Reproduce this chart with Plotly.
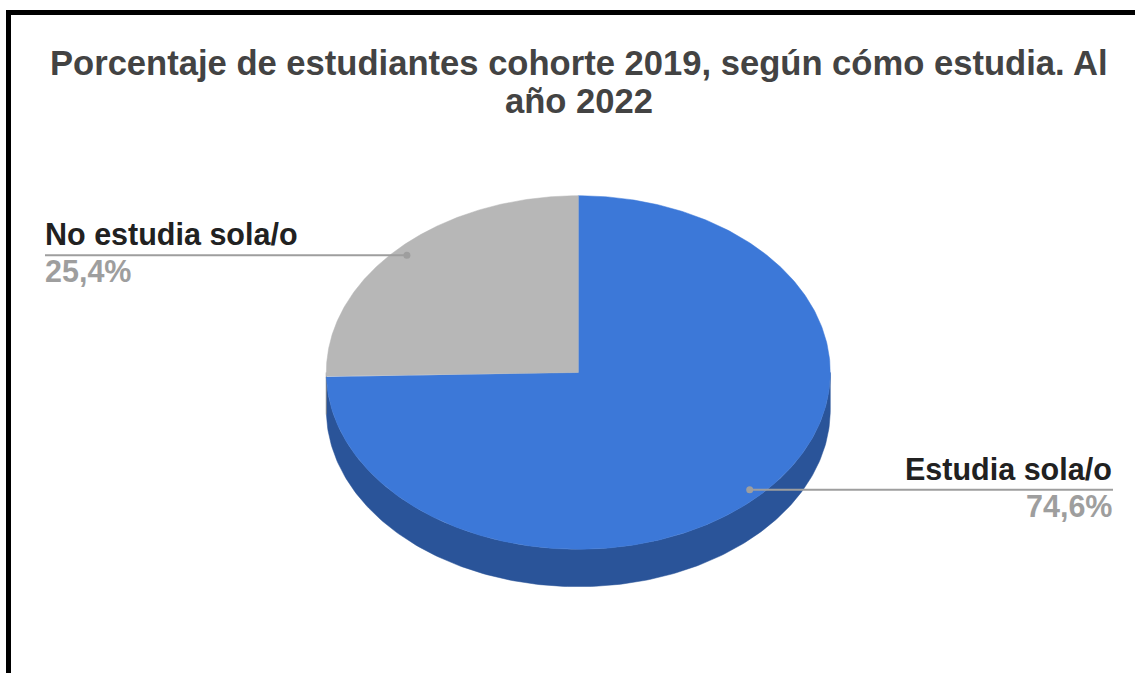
import numpy as np
import plotly.graph_objects as go

# Data
labels = ["Estudia sola/o", "No estudia sola/o"]
values = [74.6, 25.4]
value_text = ["74,6%", "25,4%"]
title_lines = ["Porcentaje de estudiantes cohorte 2019, según cómo estudia. Al", "año 2022"]

# Styling
top_colors = ["#3c78d8", "#b7b7b7"]
side_colors = ["#2a5499", "#808080"]
FONT = "Liberation Sans, Arial, sans-serif"
W, H = 1135, 673

# Pie geometry in page pixels (y grows downward)
cx, cy = 578.3, 372.5
rx, ry = 252.0, 176.8
depth = 37.4
label_frac = 0.95


def pt(theta_deg, frac=1.0, dy=0.0):
    """Point on the ellipse; theta measured clockwise from 12 o'clock."""
    t = np.radians(theta_deg)
    return cx + rx * frac * np.sin(t), cy - ry * frac * np.cos(t) + dy


fracs = np.array(values) / np.sum(values)
ends = np.cumsum(fracs) * 360.0
starts = ends - fracs * 360.0

fig = go.Figure()

# Side walls (visible front half: 90..270 degrees)
for i in range(len(values)):
    a, b = max(starts[i], 90.0), min(ends[i], 270.0)
    if b <= a:
        continue
    th = np.linspace(a, b, 200)
    xt, yt = pt(th)
    xb, yb = pt(th[::-1], dy=depth)
    fig.add_trace(go.Scatter(
        x=np.concatenate([xt, xb, xt[:1]]), y=np.concatenate([yt, yb, yt[:1]]),
        mode="lines", fill="toself", fillcolor=side_colors[i],
        line=dict(width=0.5, color=side_colors[i]), hoverinfo="skip", showlegend=False))

# Top faces
for i in range(len(values)):
    th = np.linspace(starts[i], ends[i], 400)
    xs, ys = pt(th)
    fig.add_trace(go.Scatter(
        x=np.concatenate([[cx], xs, [cx]]), y=np.concatenate([[cy], ys, [cy]]),
        mode="lines", fill="toself", fillcolor=top_colors[i],
        line=dict(width=0.5, color=top_colors[i]), name=labels[i],
        hoverinfo="name", showlegend=False))

# Leader lines and labels
left_x, right_x = 45.0, 1113.0
annotations = []
for i in range(len(values)):
    mid = (starts[i] + ends[i]) / 2.0
    dx, dy = pt(mid, frac=label_frac)
    on_right = np.sin(np.radians(mid)) >= 0
    end_x = right_x if on_right else left_x
    fig.add_trace(go.Scatter(
        x=[dx, end_x], y=[dy, dy], mode="lines",
        line=dict(color="#9e9e9e", width=2), hoverinfo="skip", showlegend=False))
    fig.add_trace(go.Scatter(
        x=[dx], y=[dy], mode="markers",
        marker=dict(color="#9e9e9e", size=7), hoverinfo="skip", showlegend=False))
    anchor = "right" if on_right else "left"
    text_x = end_x + (1 if on_right else -2)
    annotations.append(dict(
        x=text_x, y=dy - 21, xref="x", yref="y", text=f"<b>{labels[i]}</b>",
        showarrow=False, xanchor=anchor, yanchor="middle",
        font=dict(family=FONT, size=30.5, color="#212121")))
    annotations.append(dict(
        x=text_x, y=dy + 16, xref="x", yref="y", text=f"<b>{value_text[i]}</b>",
        showarrow=False, xanchor=anchor, yanchor="middle",
        font=dict(family=FONT, size=30.5, color="#9e9e9e")))

# Title
for y, line in zip([63, 101], title_lines):
    annotations.append(dict(
        x=579, y=y, xref="x", yref="y", text=f"<b>{line}</b>",
        showarrow=False, xanchor="center", yanchor="middle",
        font=dict(family=FONT, size=34.6, color="#434343")))

fig.update_layout(
    width=W, height=H,
    margin=dict(l=0, r=0, t=0, b=0),
    paper_bgcolor="white", plot_bgcolor="white",
    xaxis=dict(range=[0, W], visible=False, fixedrange=True),
    yaxis=dict(range=[H, 0], visible=False, fixedrange=True),
    annotations=annotations,
    shapes=[dict(type="rect", xref="x", yref="y", x0=8.5, y0=12.5, x1=W + 20, y1=H + 20,
                 line=dict(color="black", width=5), fillcolor="rgba(0,0,0,0)", layer="above")],
)

fig.write_html("out.html", config={"displayModeBar": False})
